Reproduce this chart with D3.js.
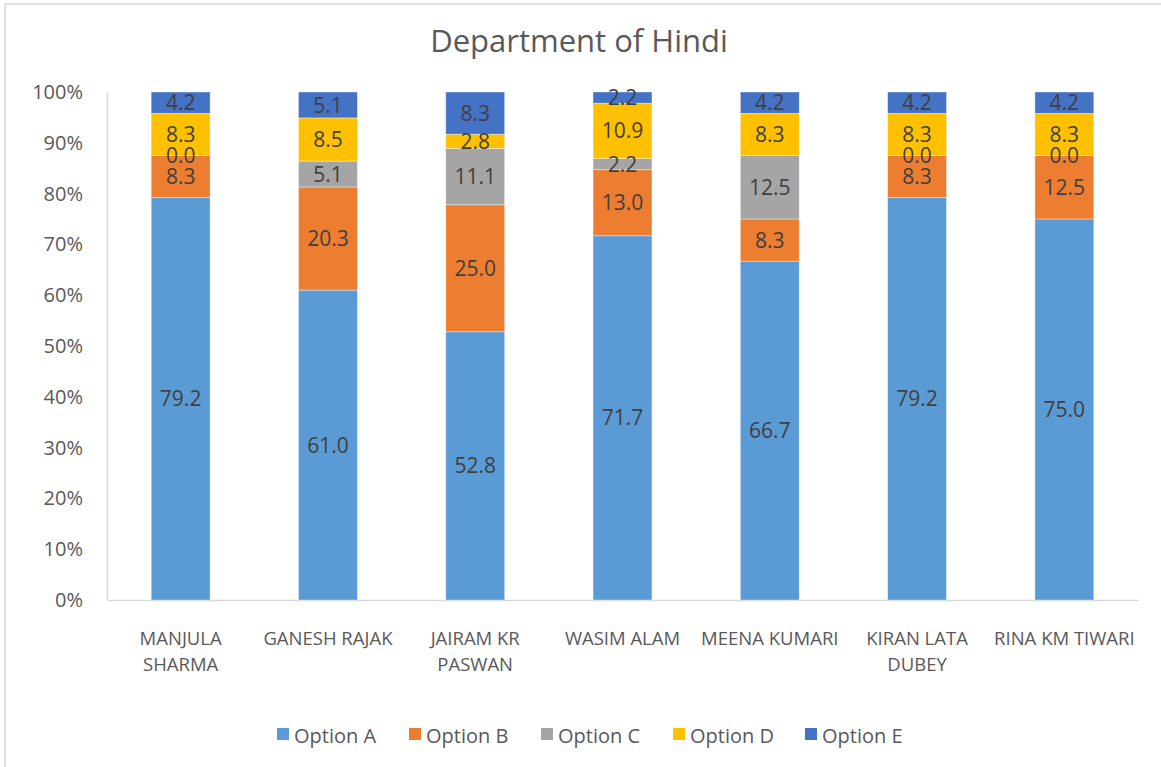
<!DOCTYPE html>
<html>
<head>
<meta charset="utf-8">
<script src="https://cdn.jsdelivr.net/npm/d3@7"></script>
<style>
  html, body { margin: 0; padding: 0; background: #fff; }
  svg text { font-family: "Open Sans", sans-serif; }
</style>
</head>
<body>
<script>
// teachers (categories)
const teachers = [
  "MANJULA SHARMA",
  "GANESH RAJAK",
  "JAIRAM KR PASWAN",
  "WASIM ALAM",
  "MEENA KUMARI",
  "KIRAN LATA DUBEY",
  "RINA KM TIWARI",
];

const options = ["Option A", "Option B", "Option C", "Option D", "Option E"];

// percent of answers per option, one value per teacher
const optionA = [79.2, 61.0, 52.8, 71.7, 66.7, 79.2, 75.0];
const optionB = [8.3, 20.3, 25.0, 13.0, 8.3, 8.3, 12.5];
const optionC = [0.0, 5.1, 11.1, 2.2, 12.5, 0.0, 0.0];
const optionD = [8.3, 8.5, 2.8, 10.9, 8.3, 8.3, 8.3];
const optionE = [4.2, 5.1, 8.3, 2.2, 4.2, 4.2, 4.2];

const yTicks = [0, 0.1, 0.2, 0.3, 0.4, 0.5, 0.6, 0.7, 0.8, 0.9, 1.0];

const colors = ["#5B9BD5", "#ED7D31", "#A5A5A5", "#FFC000", "#4472C4"];

const series = [optionA, optionB, optionC, optionD, optionE];
const rows = teachers.map((t, i) => {
  const r = { teacher: t };
  options.forEach((o, k) => (r[o] = series[k][i]));
  return r;
});

const width = 1161;
const height = 767;
const margin = { top: 92, right: 23, bottom: 167, left: 107 };

const svg = d3
  .select("body")
  .append("svg")
  .attr("width", width)
  .attr("height", height);

// chart frame
svg
  .append("rect")
  .attr("x", 5)
  .attr("y", 4)
  .attr("width", width + 20)
  .attr("height", height + 20)
  .attr("fill", "none")
  .attr("stroke", "#d9d9d9")
  .attr("stroke-width", 1.5);

// title
svg
  .append("text")
  .attr("x", 579)
  .attr("y", 52)
  .attr("text-anchor", "middle")
  .attr("font-size", "31px")
  .attr("fill", "#595959")
  .text("Department of Hindi");

const x = d3
  .scaleBand()
  .domain(teachers)
  .range([margin.left, width - margin.right])
  .paddingInner(0.6)
  .paddingOuter(0.3);

const y = d3
  .scaleLinear()
  .domain([0, 1])
  .range([height - margin.bottom, margin.top]);

const stack = d3.stack().keys(options).offset(d3.stackOffsetExpand);
const layers = stack(rows);

// y axis
const yAxis = svg
  .append("g")
  .attr("transform", `translate(${margin.left},0)`)
  .call(d3.axisLeft(y).tickValues(yTicks).tickFormat(d3.format(".0%")).tickSize(0).tickPadding(24));
yAxis.select(".domain").attr("stroke", "#d9d9d9").attr("stroke-width", 1.5);
yAxis
  .selectAll("text")
  .attr("font-size", "20px")
  .attr("fill", "#595959")
  .attr("font-family", "Open Sans, sans-serif");

// x axis
const xAxis = svg
  .append("g")
  .attr("transform", `translate(0,${height - margin.bottom})`)
  .call(d3.axisBottom(x).tickSize(0).tickPadding(0));
xAxis.select(".domain").attr("stroke", "#d9d9d9").attr("stroke-width", 1.5);
xAxis.selectAll("text").remove();

// category labels, wrapped to the band step like Excel does
const catLabels = xAxis
  .selectAll(".tick")
  .append("text")
  .attr("fill", "#595959")
  .attr("font-size", "18.5px")
  .attr("font-family", "Open Sans, sans-serif")
  .attr("text-anchor", "middle")
  .attr("y", 45);

catLabels.each(function (d) {
  const t = d3.select(this);
  const words = d.split(" ");
  let line = [];
  let lines = [];
  const probe = t.append("tspan");
  words.forEach((w) => {
    const test = line.concat(w).join(" ");
    probe.text(test);
    if (probe.node().getComputedTextLength() > x.step() - 2 && line.length) {
      lines.push(line.join(" "));
      line = [w];
    } else {
      line.push(w);
    }
  });
  lines.push(line.join(" "));
  probe.remove();
  lines.forEach((l, i) => {
    t.append("tspan").attr("x", 0).attr("dy", i === 0 ? 0 : 26).text(l);
  });
});

// bars
const groups = svg
  .selectAll("g.layer")
  .data(layers)
  .enter()
  .append("g")
  .attr("class", "layer")
  .attr("fill", (d, i) => colors[i]);

groups
  .selectAll("rect")
  .data((d) => d)
  .enter()
  .append("rect")
  .attr("x", (d) => x(d.data.teacher))
  .attr("y", (d) => y(d[1]))
  .attr("width", x.bandwidth())
  .attr("height", (d) => y(d[0]) - y(d[1]))
  .attr("stroke", "#ffffff")
  .attr("stroke-opacity", 0.5)
  .attr("stroke-width", 0.75);

// data labels in the middle of each segment, drawn above all bars
const labelLayer = svg.append("g").attr("class", "labels");

labelLayer
  .selectAll("g")
  .data(layers)
  .enter()
  .append("g")
  .selectAll("text")
  .data((d) => d.map((p) => ({ p, key: d.key })))
  .enter()
  .append("text")
  .attr("x", (d) => x(d.p.data.teacher) + x.bandwidth() / 2)
  .attr("y", (d) => y((d.p[0] + d.p[1]) / 2))
  .attr("dy", "0.36em")
  .attr("text-anchor", "middle")
  .attr("font-size", "21px")
  .attr("fill", "#404040")
  .text((d) => d3.format(".1f")(d.p.data[d.key]));

// legend
const legend = svg
  .append("g")
  .attr("transform", "translate(277,737)");

const legendItems = legend
  .selectAll("g")
  .data(options)
  .enter()
  .append("g")
  .attr("transform", (d, i) => `translate(${i * 132},0)`);

legendItems
  .append("rect")
  .attr("x", 0)
  .attr("y", -9)
  .attr("width", 12)
  .attr("height", 12)
  .attr("fill", (d, i) => colors[i]);

legendItems
  .append("text")
  .attr("x", 17)
  .attr("y", 0)
  .attr("dy", "0.32em")
  .attr("font-size", "20px")
  .attr("fill", "#595959")
  .text((d) => d);
</script>
</body>
</html>
